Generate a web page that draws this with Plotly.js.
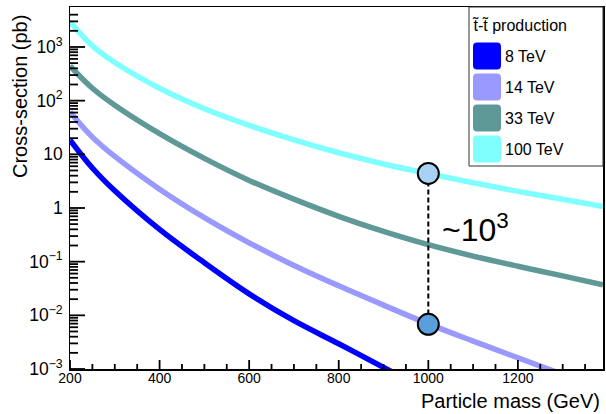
<!DOCTYPE html>
<html>
<head>
<meta charset="utf-8">
<script src="https://cdn.plot.ly/plotly-3.0.1.min.js"></script>
<style>
html,body{margin:0;padding:0;background:#fff;}
#chart{width:606px;height:414px;}
</style>
</head>
<body>
<div id="chart"></div>
<script>
// ---- data ----
const seriesNames = ['8 TeV', '14 TeV', '33 TeV', '100 TeV'];
const seriesColors = ['#0000ff', '#9999ff', '#5f9997', '#80ffff'];

const mass8 = [200, 250, 300, 400, 500, 600, 700, 800, 900, 930];
const xsec8 = [18.6, 5.56, 2.09, 0.398, 0.0955, 0.0251, 0.00794, 0.00295, 0.00107, 0.000794];

const mass14 = [200, 250, 300, 400, 500, 600, 700, 800, 900, 1000, 1100, 1200, 1290];
const xsec14 = [61.7, 20.9, 9.12, 2.24, 0.661, 0.224, 0.0851, 0.0355, 0.0155, 0.00692, 0.00331, 0.00162, 0.000851];

const mass33 = [200, 250, 300, 400, 500, 600, 700, 800, 900, 1000, 1100, 1200, 1300, 1390];
const xsec33 = [443, 170, 82.2, 24.3, 8.41, 3.27, 1.46, 0.700, 0.367, 0.207, 0.127, 0.0822, 0.0543, 0.0372];

const mass100 = [200, 250, 300, 400, 500, 600, 700, 800, 900, 1000, 1100, 1200, 1300, 1390];
const xsec100 = [2950, 1047, 513, 170, 70.8, 34.7, 18.6, 10.7, 6.61, 4.37, 2.95, 2.04, 1.45, 1.06];

const compareMass = [1000, 1000];
const compareXsec = [4.4, 0.0068];
const compareColors = ['#a8d2f5', '#5a9fdc'];
const compareLabel = '~10<sup>3</sup>';

// tick values
const xMajorTicks = [200, 400, 600, 800, 1000, 1200];
const xMinorTicks = [250, 300, 350, 450, 500, 550, 650, 700, 750, 850, 900, 950, 1050, 1100, 1150, 1250, 1300, 1350];
const yMajorTicks = [0.001, 0.01, 0.1, 1, 10, 100, 1000];
const yMinorDigits = [2, 3, 4, 5, 6, 7, 8, 9];

const legendTitle = 't\u0303-t\u0303 production';
const xTitle = 'Particle mass (GeV)';
const yTitle = 'Cross-section (pb)';

// ---- layout helpers (pixel -> paper) ----
const L = 70, R = 3, T = 7, B = 45, W = 606, H = 414;
const pw = W - L - R, ph = H - T - B;
const px = X => (X - L) / pw;
const py = Y => (H - B - Y) / ph;

const FONT = 'Liberation Sans, Arial, Helvetica, sans-serif';
const X_MIN = 200, X_MAX = 1390;
const LOG_MIN = -3, LOG_MAX = 3.745;

const massList = [mass8, mass14, mass33, mass100];
const xsecList = [xsec8, xsec14, xsec33, xsec100];

const traces = seriesNames.map((n, i) => ({
  type: 'scatter', mode: 'lines', name: n,
  x: massList[i], y: xsecList[i],
  line: {color: seriesColors[i], width: 5.5, shape: 'spline', smoothing: 1},
  hoverinfo: 'skip', showlegend: false
}));

traces.push({
  type: 'scatter', mode: 'lines', x: compareMass, y: compareXsec,
  line: {color: '#000', width: 2, dash: '5px,3px'}, showlegend: false, hoverinfo: 'skip'
});
traces.push({
  type: 'scatter', mode: 'markers', x: compareMass, y: compareXsec,
  marker: {size: 21, color: compareColors, line: {color: '#000', width: 2}},
  showlegend: false, hoverinfo: 'skip', cliponaxis: false
});

const shapes = [];

// inside tick marks (axis chrome) as line shapes
const yMinorTicks = [];
yMajorTicks.forEach(d => yMinorDigits.forEach(k => { if (d * k < 5000) yMinorTicks.push(d * k); }));
const tickLine = {color: '#000', width: 1.8};
function addXTicks(vals, len) {
  vals.forEach(v => shapes.push({
    type: 'line', xref: 'x', yref: 'paper', x0: v, x1: v, y0: 0, y1: len / ph,
    line: tickLine, layer: 'above'
  }));
}
function addYTicks(vals, len) {
  vals.forEach(v => {
    const yp = (Math.log10(v) - LOG_MIN) / (LOG_MAX - LOG_MIN);
    shapes.push({
      type: 'line', xref: 'paper', yref: 'paper', x0: 0, x1: len / pw, y0: yp, y1: yp,
      line: tickLine, layer: 'above'
    });
  });
}
addXTicks(xMajorTicks, 9);
addXTicks(xMinorTicks, 5);
addYTicks(yMajorTicks, 15);
addYTicks(yMinorTicks, 8);

// legend drawn as shapes + annotations
shapes.push({
  type: 'rect', xref: 'paper', yref: 'paper',
  x0: px(469), x1: px(603), y0: py(166), y1: py(7),
  line: {color: '#333', width: 1}, fillcolor: '#fff', layer: 'above'
});
const rr = 'M -10,-13.5 L 10,-13.5 Q 14,-13.5 14,-9.5 L 14,9.5 Q 14,13.5 10,13.5 L -10,13.5 Q -14,13.5 -14,9.5 L -14,-9.5 Q -14,-13.5 -10,-13.5 Z';
const annotations = [];
seriesNames.forEach((n, i) => {
  const yc = 56 + i * 31;
  shapes.push({
    type: 'path', xref: 'paper', yref: 'paper',
    xsizemode: 'pixel', ysizemode: 'pixel',
    xanchor: px(487), yanchor: py(yc), path: rr,
    fillcolor: seriesColors[i], line: {width: 0}, layer: 'above'
  });
  annotations.push({
    xref: 'paper', yref: 'paper', x: px(503), y: py(yc),
    xanchor: 'left', yanchor: 'middle', showarrow: false,
    text: n, font: {family: FONT, size: 16, color: '#000'}
  });
});
annotations.push({
  xref: 'paper', yref: 'paper', x: px(469.5), y: py(25),
  xanchor: 'left', yanchor: 'middle', showarrow: false,
  text: legendTitle, font: {family: FONT, size: 16, color: '#000'}
});
annotations.push({
  xref: 'paper', yref: 'paper', x: px(20), y: py(97),
  xanchor: 'center', yanchor: 'middle', showarrow: false, textangle: -90,
  text: yTitle, font: {family: FONT, size: 20, color: '#000'}
});
annotations.push({
  xref: 'paper', yref: 'paper', x: px(602), y: py(401),
  xanchor: 'right', yanchor: 'middle', showarrow: false,
  text: xTitle, font: {family: FONT, size: 20, color: '#000'}
});
annotations.push({
  xref: 'x', yref: 'y', x: 1026, y: Math.log10(0.43),
  xanchor: 'left', yanchor: 'middle', showarrow: false,
  text: compareLabel, font: {family: FONT, size: 32, color: '#000'}
});

const layout = {
  width: W, height: H,
  margin: {l: L, r: R, t: T, b: B},
  paper_bgcolor: '#fff', plot_bgcolor: '#fff',
  font: {family: FONT, color: '#000'},
  showlegend: false,
  xaxis: {
    type: 'linear', range: [X_MIN, X_MAX], tickmode: 'array', tickvals: xMajorTicks,
    ticks: '', ticklabelstandoff: -4,
    showline: true, linecolor: '#000', linewidth: 1.5, mirror: true,
    showgrid: false, zeroline: false,
    tickfont: {family: FONT, size: 14, color: '#000'}
  },
  yaxis: {
    type: 'log', range: [LOG_MIN, LOG_MAX], dtick: 1, exponentformat: 'power',
    ticks: '', ticklabelstandoff: 3,
    showline: true, linecolor: '#000', linewidth: 1.5, mirror: true,
    showgrid: false, zeroline: false,
    tickfont: {family: FONT, size: 14, color: '#000'}
  },
  shapes: shapes,
  annotations: annotations
};

Plotly.newPlot('chart', traces, layout, {staticPlot: true, displayModeBar: false});
</script>
</body>
</html>
